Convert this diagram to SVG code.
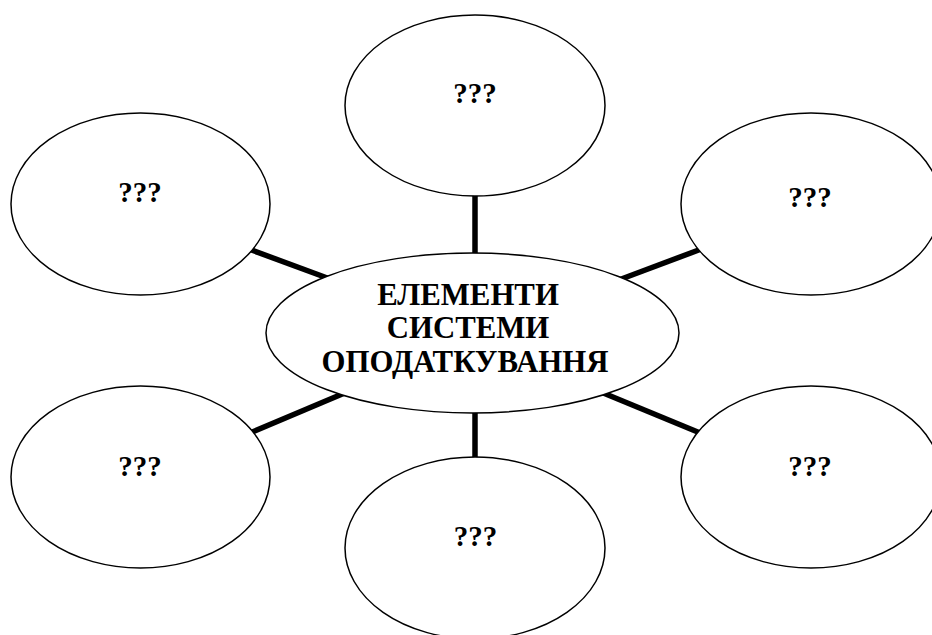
<svg xmlns="http://www.w3.org/2000/svg" width="932" height="635" viewBox="0 0 932 635">
<style>
.n{fill:#fff;stroke:#000;stroke-width:1.5}
.t{font-family:"Liberation Serif","Times New Roman",serif;font-weight:bold;font-size:29px;fill:#000;text-anchor:middle}
.m{font-size:30.8px}
.c{stroke:#000;stroke-width:5.5;fill:none}
</style>
<rect width="932" height="635" fill="#fff"/>
<g id="connectors">
<line class="c" x1="475" y1="190" x2="475" y2="260"/>
<line class="c" x1="246" y1="248" x2="330" y2="279"/>
<line class="c" x1="704" y1="248" x2="616" y2="281"/>
<line class="c" x1="245" y1="435" x2="347" y2="392"/>
<line class="c" x1="705" y1="435" x2="596" y2="390"/>
<line class="c" x1="475" y1="405" x2="475" y2="463"/>
</g>
<g id="node-top"><ellipse class="n" cx="475" cy="105.5" rx="130" ry="90.5"/><text class="t" x="475" y="103">???</text></g>
<g id="node-top-left"><ellipse class="n" cx="140.5" cy="204" rx="129.5" ry="91"/><text class="t" x="140" y="201.5">???</text></g>
<g id="node-top-right"><ellipse class="n" cx="811" cy="204" rx="130" ry="91"/><text class="t" x="810" y="206.5">???</text></g>
<g id="node-bottom-left"><ellipse class="n" cx="140.5" cy="477" rx="129.5" ry="91"/><text class="t" x="140" y="476">???</text></g>
<g id="node-bottom-right"><ellipse class="n" cx="811" cy="477" rx="130" ry="91"/><text class="t" x="810" y="476">???</text></g>
<g id="node-bottom"><ellipse class="n" cx="475" cy="548" rx="130" ry="91"/><text class="t" x="475.5" y="545.5">???</text></g>
<g id="node-center"><ellipse class="n" cx="472.5" cy="333" rx="206.5" ry="80"/>
<text class="t m" x="468" y="305">ЕЛЕМЕНТИ</text>
<text class="t m" x="468" y="338">СИСТЕМИ</text>
<text class="t m" x="465" y="372">ОПОДАТКУВАННЯ</text>
</g>
</svg>
